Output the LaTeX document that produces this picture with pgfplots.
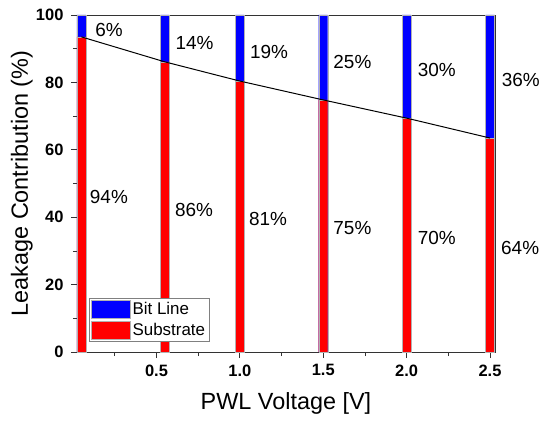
\documentclass[border=0pt]{standalone}
\usepackage{fontspec}
\setmainfont{Liberation Sans}
\usepackage{pgfplots}
\pgfplotsset{compat=1.18}
\definecolor{barblue}{RGB}{0,0,255}
\definecolor{barred}{RGB}{255,0,0}
\begin{document}
\begin{tikzpicture}
\begin{axis}[
  scale only axis,
  width=418bp, height=337bp,
  xmin=0.023, xmax=2.53, ymin=0, ymax=100,
  clip=false,
  axis line style={black!80, line width=0.8pt},
  xtick={0.5,1.0,1.5,2.0,2.5},
  minor xtick={0.25,0.75,1.25,1.75,2.25},
  ytick={0,20,40,60,80,100},
  minor ytick={10,30,50,70,90},
  tick align=outside,
  xtick pos=bottom, ytick pos=left,
  major tick length=6bp, minor tick length=4bp,
  tick style={black!80, line width=0.8pt},
  /pgf/number format/assume math mode=true,
  xticklabel style={yshift=-3bp, /pgf/number format/.cd, fixed, fixed zerofill, precision=1},
  yticklabel style={xshift=-4bp, /pgf/number format/.cd, fixed, precision=0},
  ticklabel style={font=\fontsize{16.5}{18}\selectfont\bfseries},
  xlabel={PWL Voltage [V]},
  ylabel={Leakage Contribution (\%)},
  label style={font=\fontsize{23.5}{26}\selectfont},
  xlabel style={at={(axis description cs:0.5,-0.151)}, anchor=center},
  ylabel style={at={(axis description cs:-0.1316,0.5)}, anchor=center},
  legend image code/.code={\draw[#1] (0bp,-9bp) rectangle (39bp,9bp);},
  legend style={at={(axis description cs:0.029,0.16)}, anchor=north west,
    draw=black!50, font=\fontsize{17}{19}\selectfont, row sep=2pt,
    inner sep=2pt, cells={anchor=west}},
]
\addplot[ybar, bar width=0.054, bar shift=0pt, fill=barblue, draw=black!30, line width=0.3pt]
  coordinates {(0.05,100) (0.55,100) (1.0,100) (1.5,100) (2.0,100) (2.5,100)};
\addlegendentry{Bit Line}
\addplot[ybar, bar width=0.054, bar shift=0pt, fill=barred, draw=black!30, line width=0.3pt]
  coordinates {(0.05,93.5) (0.55,86.1) (1.0,80.4) (1.5,74.8) (2.0,69.4) (2.5,63.5)};
\addlegendentry{Substrate}
\addplot[black, line width=1pt, mark=none, sharp plot, forget plot]
  coordinates {(0.05,93.5) (0.55,86.1) (1.0,80.4) (1.5,74.8) (2.0,69.4) (2.5,63.5)};
% percentage labels
\begin{scope}[every node/.style={anchor=west, inner sep=0pt, font=\fontsize{19}{21}\selectfont}]
\node at (axis cs:0.133,95.5) {6\%};
\node at (axis cs:0.614,91.7) {14\%};
\node at (axis cs:1.06,89.0) {19\%};
\node at (axis cs:1.56,86.0) {25\%};
\node at (axis cs:2.066,83.7) {30\%};
\node at (axis cs:2.57,80.7) {36\%};
\node at (axis cs:0.10,46.0) {94\%};
\node at (axis cs:0.61,42.1) {86\%};
\node at (axis cs:1.054,39.5) {81\%};
\node at (axis cs:1.56,36.8) {75\%};
\node at (axis cs:2.066,33.8) {70\%};
\node at (axis cs:2.566,30.9) {64\%};
\end{scope}
\coordinate (bbbl) at (rel axis cs:-0.184,-0.2018);
\coordinate (bbtr) at (rel axis cs:1.110,1.0445);
\end{axis}
\pgfresetboundingbox
\path[use as bounding box] (bbbl) rectangle (bbtr);
\end{tikzpicture}
\end{document}
